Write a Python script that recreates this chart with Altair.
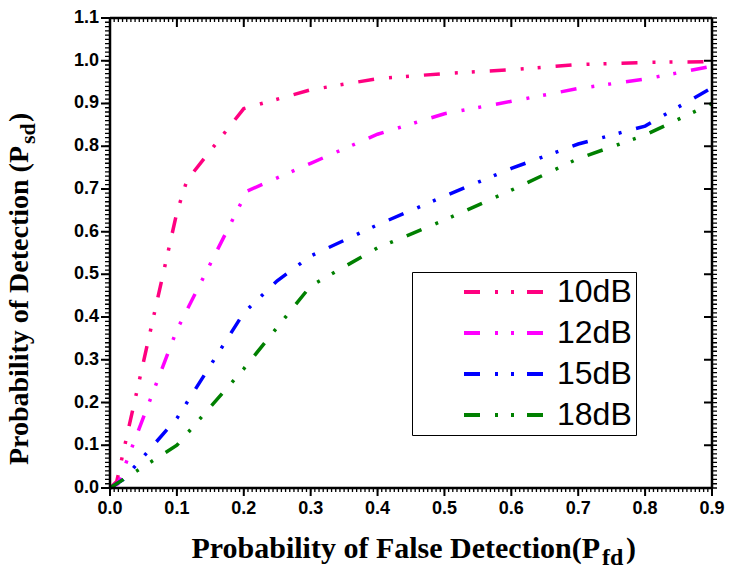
import altair as alt
import pandas as pd

# Detection curves: probability of detection vs. probability of false detection
series_names = ["10dB", "12dB", "15dB", "18dB"]
line_colors = ["#FF0080", "#FF00FF", "#0000FF", "#008000"]

pfd_10db = [0, 0.01, 0.1, 0.115, 0.2, 0.3, 0.4, 0.5, 0.6, 0.7, 0.8, 0.9]
psd_10db = [0, 0.015, 0.645, 0.72, 0.888, 0.932, 0.958, 0.970, 0.979, 0.991, 0.996, 0.998]

pfd_12db = [0, 0.012, 0.1, 0.205, 0.3, 0.4, 0.5, 0.6, 0.7, 0.8, 0.9]
psd_12db = [0, 0.01, 0.37, 0.695, 0.76, 0.828, 0.876, 0.905, 0.935, 0.957, 0.987]

pfd_15db = [0, 0.02, 0.1, 0.2, 0.25, 0.3, 0.4, 0.5, 0.6, 0.7, 0.8, 0.9]
psd_15db = [0, 0.02, 0.163, 0.41, 0.485, 0.543, 0.616, 0.683, 0.748, 0.805, 0.847, 0.937]

pfd_18db = [0, 0.1, 0.2, 0.3, 0.4, 0.5, 0.6, 0.7, 0.8, 0.9]
psd_18db = [0, 0.1, 0.279, 0.473, 0.562, 0.627, 0.697, 0.771, 0.826, 0.90]

x_major = [round(0.1 * i, 1) for i in range(10)]
x_minor = [round(i * 0.1 / 16, 5) for i in range(145)]
y_major = [round(0.1 * i, 1) for i in range(12)]
y_minor = [round(i * 0.01, 2) for i in range(111)]
x_tick_labels = [f"{v:.1f}" for v in x_major]
y_tick_labels = [f"{v:.1f}" for v in y_major]

W, H = 602, 470
X0, X1 = 0.0, 0.9
Y0, Y1 = 0.0, 1.1
PX_X = (X1 - X0) / W      # one pixel in x data units
PX_Y = (Y1 - Y0) / H      # one pixel in y data units
LABEL_FONT = "Liberation Sans"
TITLE_FONT = "Liberation Serif"
CURVE_DASH = [16, 15, 3, 14, 3, 15]

rows = []
for name, xs_, ys_ in zip(series_names,
                          [pfd_10db, pfd_12db, pfd_15db, pfd_18db],
                          [psd_10db, psd_12db, psd_15db, psd_18db]):
    for i, (xv, yv) in enumerate(zip(xs_, ys_)):
        rows.append({"id": name, "kind": "curve", "w": 3.5, "px": xv, "py": yv, "o": i})


def add_ticks(values, edge, inner_px, outer_px, width, prefix):
    """Frame ticks as two-point paths drawn by the same line mark as the curves."""
    for k, v in enumerate(values):
        if edge == "bottom":
            pts = [(v, Y0 + inner_px * PX_Y), (v, Y0 - outer_px * PX_Y)]
        elif edge == "top":
            pts = [(v, Y1 - inner_px * PX_Y), (v, Y1 + outer_px * PX_Y)]
        elif edge == "left":
            pts = [(X0 + inner_px * PX_X, v), (X0 - outer_px * PX_X, v)]
        else:
            pts = [(X1 - inner_px * PX_X, v), (X1 + outer_px * PX_X, v)]
        for j, (a, b) in enumerate(pts):
            rows.append({"id": f"{prefix}-{edge}-{k}", "kind": "guide", "w": width,
                         "px": a, "py": b, "o": j})


add_ticks(x_major, "bottom", 0, 8, 2, "M")
add_ticks(x_major, "top", 9, 0, 2, "M")
add_ticks(y_major, "left", 0, 9, 2, "M")
add_ticks(y_major, "right", 8, 0, 2, "M")
add_ticks(x_minor, "bottom", 0, 4, 1.3, "m")
add_ticks(x_minor, "top", 4, 0, 1.3, "m")
add_ticks(y_minor, "left", 0, 5, 1.3, "m")
add_ticks(y_minor, "right", 0, 5, 1.3, "m")

for j, (a, b) in enumerate([(X0, Y0), (X1, Y0), (X1, Y1), (X0, Y1), (X0, Y0)]):
    rows.append({"id": "frame", "kind": "guide", "w": 2.5, "px": a, "py": b, "o": j})

df = pd.DataFrame(rows)
all_ids = list(dict.fromkeys(df["id"]))
all_colors = [line_colors[series_names.index(i)] if i in series_names else "#000000"
              for i in all_ids]

x_scale = alt.Scale(domain=[X0, X1], nice=False, zero=False)
y_scale = alt.Scale(domain=[Y0, Y1], nice=False, zero=False)

lines = alt.Chart(df).mark_line(strokeCap="butt", strokeJoin="miter").encode(
    x=alt.X("px:Q", scale=x_scale, axis=None),
    y=alt.Y("py:Q", scale=y_scale, axis=None),
    color=alt.Color("id:N", scale=alt.Scale(domain=all_ids, range=all_colors),
                    legend=alt.Legend(
                        values=series_names,
                        title=None, orient="none", legendX=302, legendY=254,
                        padding=4, strokeColor="black", fillColor="white",
                        symbolType="M-5,0H5", symbolSize=256, symbolStrokeWidth=4,
                        symbolDash=[16, 15, 3, 13, 3, 13, 16, 60],
                        symbolOffset=72, labelOffset=37, labelFont=LABEL_FONT,
                        labelFontSize=32, labelColor="black", rowPadding=9,
                        labelLimit=300)),
    strokeDash=alt.StrokeDash("kind:N", scale=alt.Scale(
        domain=["curve", "guide"], range=[CURVE_DASH, [1, 0]]), legend=None),
    strokeWidth=alt.StrokeWidth("w:Q", scale=None, legend=None),
    order="o:Q",
)

# tick labels, positioned by the same scales
x_labels = alt.Chart(pd.DataFrame({"xv": x_major, "xt": x_tick_labels})).mark_text(
    font=LABEL_FONT, fontSize=18, fontWeight="bold", color="black",
    align="center", baseline="top"
).encode(x=alt.X("xv:Q", scale=x_scale, axis=None), y=alt.value(H + 12), text="xt:N")

y_labels = alt.Chart(pd.DataFrame({"yv": y_major, "yt": y_tick_labels})).mark_text(
    font=LABEL_FONT, fontSize=18, fontWeight="bold", color="black",
    align="right", baseline="middle"
).encode(y=alt.Y("yv:Q", scale=y_scale, axis=None), x=alt.value(-11), text="yt:N")

one = pd.DataFrame({"k": [0]})
tstyle = dict(font=TITLE_FONT, fontWeight="bold", color="black", baseline="alphabetic")

x_title = alt.Chart(one).mark_text(text="Probability of False Detection(P", align="right",
                                   fontSize=30, **tstyle).encode(
    x=alt.value(490), y=alt.value(540))
x_sub = alt.Chart(one).mark_text(text="fd", align="left", fontSize=24, **tstyle).encode(
    x=alt.value(492), y=alt.value(547))
x_close = alt.Chart(one).mark_text(text=")", align="left", fontSize=30, **tstyle).encode(
    x=alt.value(516), y=alt.value(540))

y_title = alt.Chart(one).mark_text(text="Probability of Detection (P", align="right",
                                   angle=270, fontSize=28, **tstyle).encode(
    x=alt.value(-82), y=alt.value(128))
y_sub = alt.Chart(one).mark_text(text="sd", align="left", angle=270, fontSize=22,
                                 **tstyle).encode(
    x=alt.value(-75), y=alt.value(126))
y_close = alt.Chart(one).mark_text(text=")", align="left", angle=270, fontSize=28,
                                   **tstyle).encode(
    x=alt.value(-82), y=alt.value(104))

chart = alt.layer(
    lines, x_labels, y_labels,
    x_title, x_sub, x_close, y_title, y_sub, y_close,
).properties(
    width=W, height=H,
    autosize=alt.AutoSizeParams(type="none"),
    padding={"left": 110, "top": 18, "right": 19, "bottom": 81},
).configure_view(strokeWidth=0).configure_legend(strokeWidth=1)

chart.save("out.html", embed_options={"renderer": "svg", "actions": False})
